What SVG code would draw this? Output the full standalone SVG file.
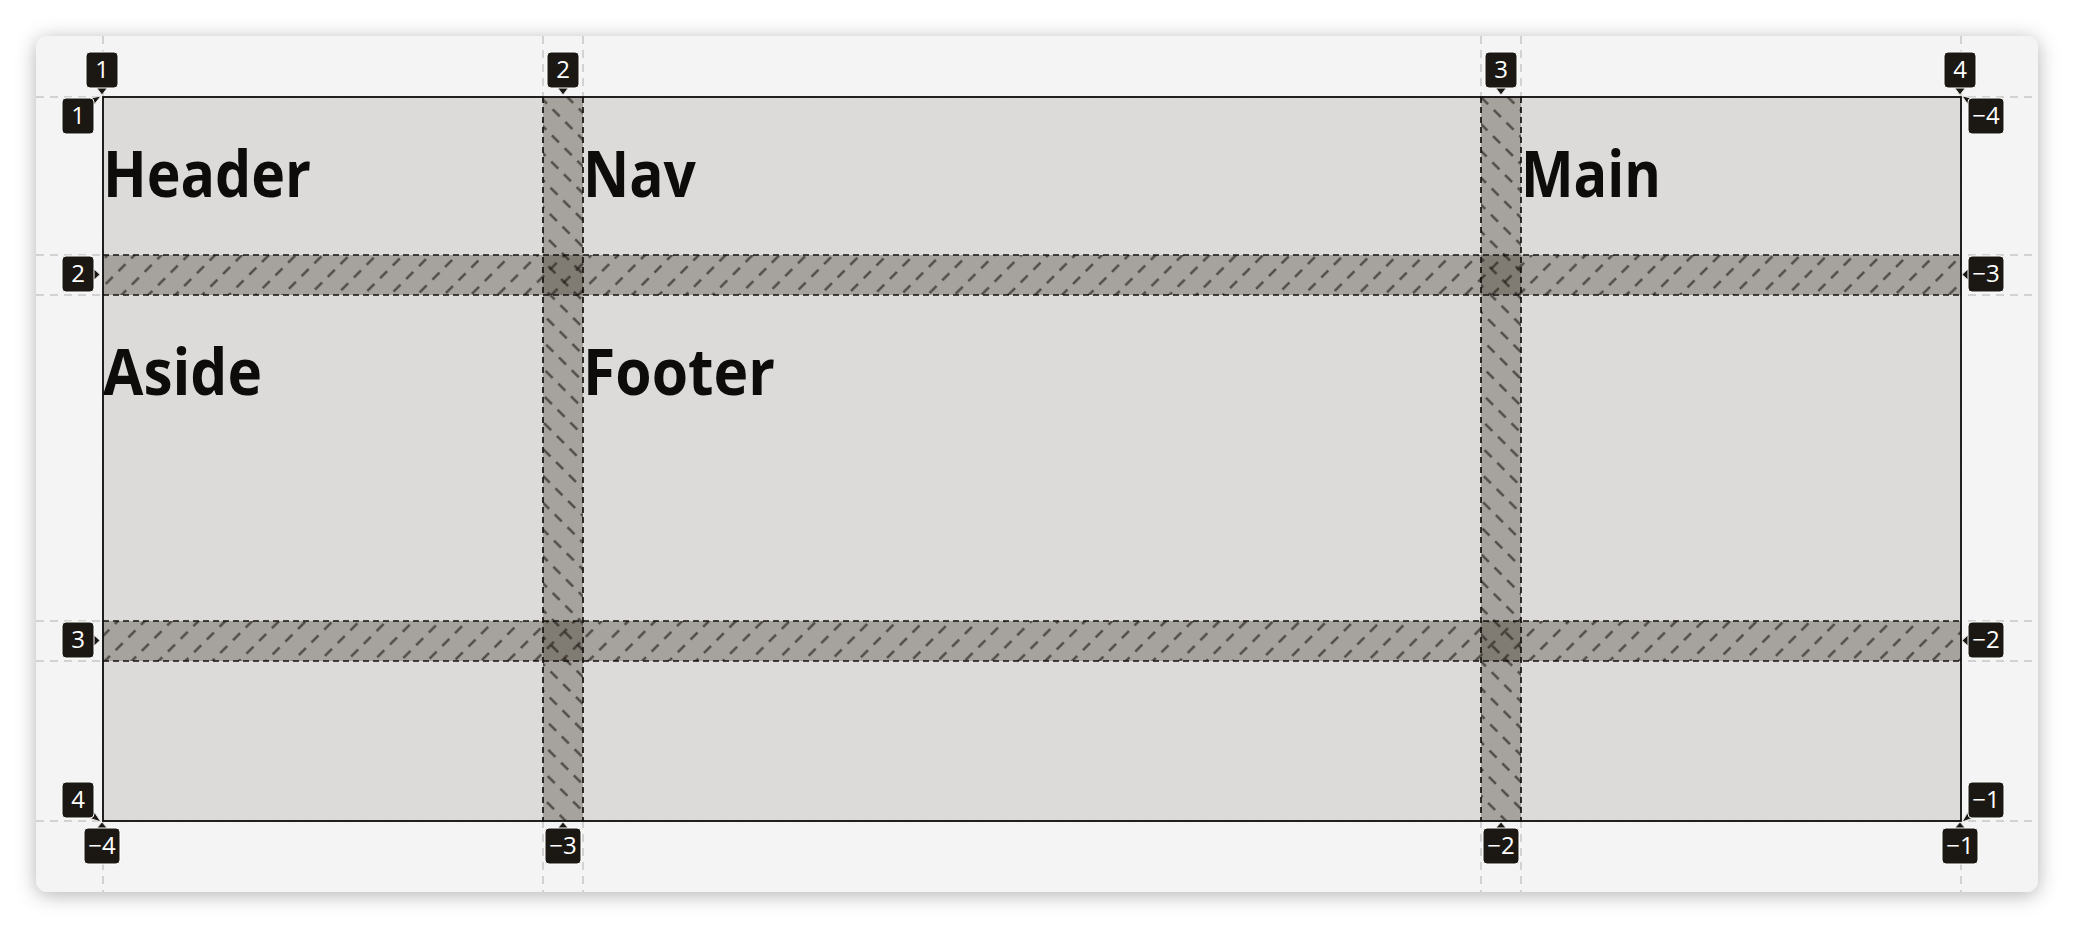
<svg xmlns="http://www.w3.org/2000/svg" width="2074" height="928" viewBox="0 0 2074 928">
  <style>
    .guide { stroke: #c6c6c6; stroke-width: 1.5; stroke-dasharray: 8 6; fill: none; }
    .gapfill { fill: #2e2418; fill-opacity: 0.31; }
    .gapline { stroke: #14110e; stroke-width: 1.7; stroke-dasharray: 6 4; fill: none; }
    .area { font-family: "Open Sans", "Noto Sans", sans-serif; font-weight: 700; font-size: 65px; fill: #0d0c0b; }
    .lbox { fill: #1b1813; stroke: #ffffff; stroke-width: 1; }
    .lptr { fill: #1b1813; stroke: #e4e4e4; stroke-width: 1; }
    .ltxt { font-family: "Open Sans", "Noto Sans", sans-serif; font-size: 24px; fill: #ffffff; text-anchor: middle; }
  </style>
  <defs>
    <filter id="shadow" x="-5%" y="-10%" width="110%" height="120%">
      <feDropShadow dx="0" dy="3" stdDeviation="10" flood-color="#000000" flood-opacity="0.3"/>
    </filter>
    <pattern id="hatchRow" width="18" height="19" patternUnits="userSpaceOnUse" patternTransform="rotate(-45)">
      <line x1="0" y1="9.5" x2="18" y2="9.5" stroke="#1e1a16" stroke-opacity="0.7" stroke-width="2.2" stroke-dasharray="10 8"/>
    </pattern>
    <pattern id="hatchCol" width="18" height="19" patternUnits="userSpaceOnUse" patternTransform="rotate(45)">
      <line x1="0" y1="9.5" x2="18" y2="9.5" stroke="#1e1a16" stroke-opacity="0.7" stroke-width="2.2" stroke-dasharray="10 8"/>
    </pattern>
  </defs>

  <rect width="2074" height="928" fill="#ffffff"/>
  <rect id="card" x="36" y="36" width="2002" height="856" rx="12" fill="#f4f4f4" filter="url(#shadow)"/>

  <g id="connectors">
    <g id="guides">
      <line class="guide" x1="103" y1="36" x2="103" y2="892"/>
      <line class="guide" x1="543" y1="36" x2="543" y2="892"/>
      <line class="guide" x1="583" y1="36" x2="583" y2="892"/>
      <line class="guide" x1="1481" y1="36" x2="1481" y2="892"/>
      <line class="guide" x1="1521" y1="36" x2="1521" y2="892"/>
      <line class="guide" x1="1961" y1="36" x2="1961" y2="892"/>
      <line class="guide" x1="36" y1="97" x2="2038" y2="97"/>
      <line class="guide" x1="36" y1="255" x2="2038" y2="255"/>
      <line class="guide" x1="36" y1="295" x2="2038" y2="295"/>
      <line class="guide" x1="36" y1="621" x2="2038" y2="621"/>
      <line class="guide" x1="36" y1="661" x2="2038" y2="661"/>
      <line class="guide" x1="36" y1="821" x2="2038" y2="821"/>
    </g>
  </g>

  <g id="grid">
    <rect x="103" y="97" width="1858" height="724" fill="#dcdbd9"/>
    <g id="row-gaps">
      <rect class="gapfill" x="103" y="255" width="1858" height="40"/>
      <rect x="103" y="255" width="1858" height="40" fill="url(#hatchRow)"/>
      <rect class="gapfill" x="103" y="621" width="1858" height="40"/>
      <rect x="103" y="621" width="1858" height="40" fill="url(#hatchRow)"/>
    </g>
    <g id="col-gaps">
      <rect class="gapfill" x="543" y="97" width="40" height="724"/>
      <rect x="543" y="97" width="40" height="724" fill="url(#hatchCol)"/>
      <rect class="gapfill" x="1481" y="97" width="40" height="724"/>
      <rect x="1481" y="97" width="40" height="724" fill="url(#hatchCol)"/>
    </g>
    <g id="gap-borders">
      <line class="gapline" x1="103" y1="255" x2="1961" y2="255"/>
      <line class="gapline" x1="103" y1="295" x2="1961" y2="295"/>
      <line class="gapline" x1="103" y1="621" x2="1961" y2="621"/>
      <line class="gapline" x1="103" y1="661" x2="1961" y2="661"/>
      <line class="gapline" x1="543" y1="97" x2="543" y2="821"/>
      <line class="gapline" x1="583" y1="97" x2="583" y2="821"/>
      <line class="gapline" x1="1481" y1="97" x2="1481" y2="821"/>
      <line class="gapline" x1="1521" y1="97" x2="1521" y2="821"/>
    </g>
    <rect x="103" y="97" width="1858" height="724" fill="none" stroke="#0d0c0b" stroke-width="1.8"/>
  </g>

  <g id="header"><text class="area" x="103" y="197" textLength="208" lengthAdjust="spacingAndGlyphs">Header</text></g>
  <g id="nav"><text class="area" x="583" y="197" textLength="113" lengthAdjust="spacingAndGlyphs">Nav</text></g>
  <g id="main"><text class="area" x="1521" y="197" textLength="140" lengthAdjust="spacingAndGlyphs">Main</text></g>
  <g id="aside"><text class="area" x="103" y="395" textLength="159" lengthAdjust="spacingAndGlyphs">Aside</text></g>
  <g id="footer"><text class="area" x="583" y="395" textLength="192" lengthAdjust="spacingAndGlyphs">Footer</text></g>

  <g id="label-top-1">
    <polygon class="lptr" points="96,87 108,87 102,95"/>
    <rect class="lbox" x="86" y="52" width="32" height="36" rx="4"/>
    <text class="ltxt" x="102" y="78">1</text>
  </g>
  <g id="label-top-2">
    <polygon class="lptr" points="557,87 569,87 563,95"/>
    <rect class="lbox" x="547" y="52" width="32" height="36" rx="4"/>
    <text class="ltxt" x="563" y="78">2</text>
  </g>
  <g id="label-top-3">
    <polygon class="lptr" points="1495,87 1507,87 1501,95"/>
    <rect class="lbox" x="1485" y="52" width="32" height="36" rx="4"/>
    <text class="ltxt" x="1501" y="78">3</text>
  </g>
  <g id="label-top-4">
    <polygon class="lptr" points="1954,87 1966,87 1960,95"/>
    <rect class="lbox" x="1944" y="52" width="32" height="36" rx="4"/>
    <text class="ltxt" x="1960" y="78">4</text>
  </g>

  <g id="label-bottom-m4">
    <polygon class="lptr" points="96,829 108,829 102,822"/>
    <rect class="lbox" x="84" y="828" width="36" height="36" rx="4"/>
    <text class="ltxt" x="102" y="854">−4</text>
  </g>
  <g id="label-bottom-m3">
    <polygon class="lptr" points="557,829 569,829 563,822"/>
    <rect class="lbox" x="545" y="828" width="36" height="36" rx="4"/>
    <text class="ltxt" x="563" y="854">−3</text>
  </g>
  <g id="label-bottom-m2">
    <polygon class="lptr" points="1495,829 1507,829 1501,822"/>
    <rect class="lbox" x="1483" y="828" width="36" height="36" rx="4"/>
    <text class="ltxt" x="1501" y="854">−2</text>
  </g>
  <g id="label-bottom-m1">
    <polygon class="lptr" points="1954,829 1966,829 1960,822"/>
    <rect class="lbox" x="1942" y="828" width="36" height="36" rx="4"/>
    <text class="ltxt" x="1960" y="854">−1</text>
  </g>

  <g id="label-left-1">
    <polygon class="lptr" points="86,99 93,106 101,96"/>
    <rect class="lbox" x="62" y="98" width="32" height="36" rx="4"/>
    <text class="ltxt" x="78" y="124">1</text>
  </g>
  <g id="label-left-2">
    <polygon class="lptr" points="93,268 93,281 100,274.5"/>
    <rect class="lbox" x="62" y="256" width="32" height="36" rx="4"/>
    <text class="ltxt" x="78" y="282">2</text>
  </g>
  <g id="label-left-3">
    <polygon class="lptr" points="93,634 93,647 100,640.5"/>
    <rect class="lbox" x="62" y="622" width="32" height="36" rx="4"/>
    <text class="ltxt" x="78" y="648">3</text>
  </g>
  <g id="label-left-4">
    <polygon class="lptr" points="86,817 93,810 101,822"/>
    <rect class="lbox" x="62" y="782" width="32" height="36" rx="4"/>
    <text class="ltxt" x="78" y="808">4</text>
  </g>

  <g id="label-right-m4">
    <polygon class="lptr" points="1976,99 1969,106 1962,96"/>
    <rect class="lbox" x="1968" y="98" width="36" height="36" rx="4"/>
    <text class="ltxt" x="1986" y="124">−4</text>
  </g>
  <g id="label-right-m3">
    <polygon class="lptr" points="1969,268 1969,281 1962,274.5"/>
    <rect class="lbox" x="1968" y="256" width="36" height="36" rx="4"/>
    <text class="ltxt" x="1986" y="282">−3</text>
  </g>
  <g id="label-right-m2">
    <polygon class="lptr" points="1969,634 1969,647 1962,640.5"/>
    <rect class="lbox" x="1968" y="622" width="36" height="36" rx="4"/>
    <text class="ltxt" x="1986" y="648">−2</text>
  </g>
  <g id="label-right-m1">
    <polygon class="lptr" points="1976,817 1969,810 1962,822"/>
    <rect class="lbox" x="1968" y="782" width="36" height="36" rx="4"/>
    <text class="ltxt" x="1986" y="808">−1</text>
  </g>
</svg>
